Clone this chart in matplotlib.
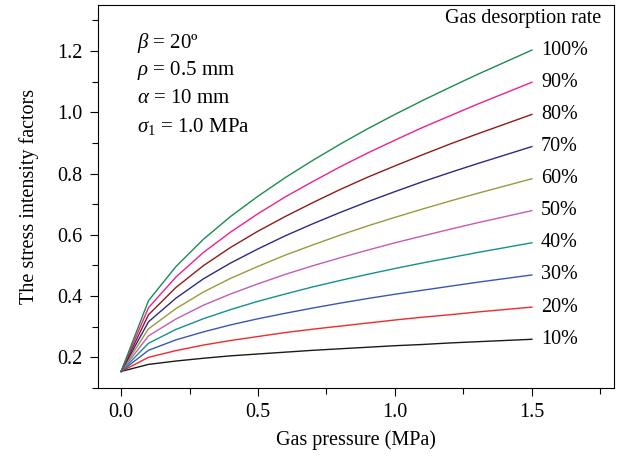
import matplotlib
matplotlib.use("Agg")
import matplotlib.pyplot as plt
from matplotlib.ticker import MultipleLocator

plt.rcParams['font.family'] = ['Liberation Serif', 'DejaVu Serif']
plt.rcParams['mathtext.fontset'] = 'custom'
plt.rcParams['mathtext.rm'] = 'Liberation Serif'
plt.rcParams['mathtext.it'] = 'Liberation Serif:italic'

pressure = [0.0, 0.1, 0.2, 0.3, 0.4, 0.5, 0.6, 0.7, 0.8, 0.9, 1.0, 1.1, 1.2, 1.3, 1.4, 1.5]

rate_labels = ['10%', '20%', '30%', '40%', '50%', '60%', '70%', '80%', '90%', '100%']

k10 = [0.154, 0.177, 0.188, 0.197, 0.205, 0.211, 0.217, 0.223, 0.228, 0.233, 0.238, 0.242, 0.247, 0.251, 0.255, 0.259]
k20 = [0.154, 0.200, 0.222, 0.240, 0.255, 0.268, 0.281, 0.292, 0.302, 0.312, 0.322, 0.331, 0.339, 0.348, 0.356, 0.364]
k30 = [0.154, 0.223, 0.257, 0.283, 0.306, 0.326, 0.344, 0.361, 0.377, 0.392, 0.406, 0.419, 0.432, 0.445, 0.457, 0.469]
k40 = [0.154, 0.246, 0.291, 0.326, 0.356, 0.383, 0.407, 0.430, 0.451, 0.471, 0.490, 0.508, 0.525, 0.542, 0.558, 0.574]
k50 = [0.154, 0.270, 0.325, 0.370, 0.407, 0.440, 0.471, 0.499, 0.525, 0.550, 0.574, 0.596, 0.618, 0.639, 0.659, 0.679]
k60 = [0.154, 0.293, 0.359, 0.413, 0.458, 0.497, 0.534, 0.567, 0.599, 0.629, 0.657, 0.684, 0.710, 0.735, 0.759, 0.783]
k70 = [0.154, 0.316, 0.393, 0.456, 0.508, 0.554, 0.597, 0.636, 0.673, 0.708, 0.741, 0.773, 0.803, 0.832, 0.860, 0.888]
k80 = [0.154, 0.339, 0.428, 0.499, 0.559, 0.612, 0.660, 0.705, 0.748, 0.788, 0.825, 0.861, 0.896, 0.929, 0.961, 0.993]
k90 = [0.154, 0.362, 0.462, 0.542, 0.609, 0.669, 0.724, 0.774, 0.822, 0.867, 0.909, 0.950, 0.988, 1.026, 1.062, 1.098]
k100 = [0.154, 0.385, 0.496, 0.585, 0.660, 0.726, 0.787, 0.843, 0.896, 0.946, 0.993, 1.038, 1.081, 1.123, 1.163, 1.203]

series = [k10, k20, k30, k40, k50, k60, k70, k80, k90, k100]
colors = ['#1a1a1a', '#ee2a2a', '#3a56b4', '#15908c', '#c45cb4',
          '#9a9a3c', '#2b2b84', '#8c1c1c', '#f0208c', '#1a8c50']

FS = 14.5

fig = plt.figure(figsize=(6.23, 4.59), dpi=100)
ax = fig.add_axes([0.157, 0.1547, 0.8286, 0.8343])

for vals, c, lab in zip(series, colors, rate_labels):
    ax.plot(pressure, vals, color=c, lw=1.0)
    ax.annotate(lab, xy=(pressure[-1], vals[-1]), xytext=(6.5, 0),
                textcoords='offset points', va='center', ha='left', fontsize=FS)

ax.text(1.755, 1.307, 'Gas desorption rate', ha='right', va='center', fontsize=FS)

params = [r'$\beta$ = 20º', r'$\rho$ = 0.5 mm', r'$\alpha$ = 10 mm', r'$\sigma_1$ = 1.0 MPa']
for i, s in enumerate(params):
    ax.text(0.058, 1.226 - i * 0.091, s, ha='left', va='center', fontsize=15)

ax.set_xlim(-0.085, 1.8)
ax.set_ylim(0.1, 1.35)
ax.xaxis.set_major_locator(MultipleLocator(0.5))
ax.xaxis.set_minor_locator(MultipleLocator(0.25))
ax.yaxis.set_major_locator(MultipleLocator(0.2))
ax.yaxis.set_minor_locator(MultipleLocator(0.1))
ax.xaxis.set_major_formatter(plt.FormatStrFormatter('%.1f'))
ax.yaxis.set_major_formatter(plt.FormatStrFormatter('%.1f'))
ax.tick_params(which='both', direction='out', top=False, right=False, labelsize=FS, width=0.8)
ax.tick_params(which='major', length=6, pad=5)
ax.tick_params(which='minor', length=4)
for sp in ax.spines.values():
    sp.set_linewidth(0.8)

ax.set_xlabel('Gas pressure (MPa)', fontsize=FS, labelpad=6)
ax.set_ylabel('The stress intensity factors', fontsize=FS, labelpad=13)

fig.savefig('out.png', dpi=100)
